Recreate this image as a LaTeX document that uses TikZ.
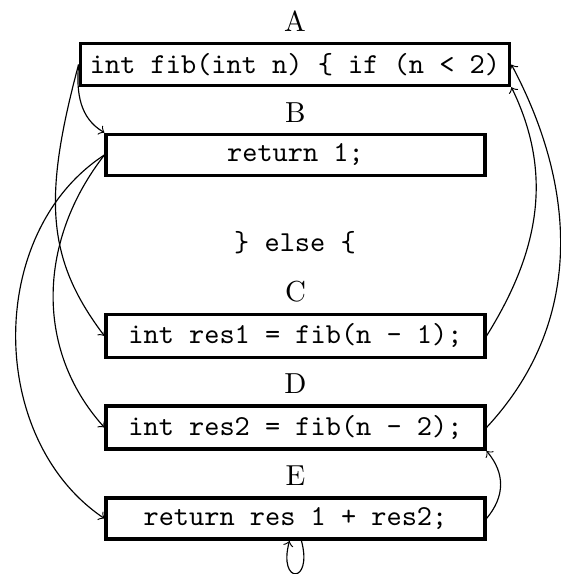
\documentclass[tikz,border=0pt]{standalone}
\usepackage{fontspec}
\begin{document}
\begin{tikzpicture}[scale=1.0,
    stmt/.style={draw, very thick, minimum width=4.6cm, font=\ttfamily},
    flow/.style={->, thin}]
    \useasboundingbox (0, 0) rectangle (6.804, 6.974);

    % Statements
    \node[stmt, minimum width=0pt, label=above:A] (A) at (3.584, 6.190) {int fib(int n) \{ if (n < 2)};
    \node[stmt, label=above:B] (B) at (3.590, 5.091) {return 1;};
    \node[font=\ttfamily] (else) at (3.584, 4.022) {\} else \{};
    \node[stmt, label=above:C] (C) at (3.590, 2.892) {int res1 = fib(n - 1);};
    \node[stmt, label=above:D] (D) at (3.590, 1.780) {int res2 = fib(n - 2);};
    \node[stmt, label=above:E] (E) at (3.590, 0.674) {return res 1 + res2;};

    % Left side
    \draw[flow] (A.west) to[out=-95, in=150] (B.north west);
    \draw[flow] (A.west) to[out=-105, in=127, out looseness=1.3, in looseness=0.9] (C.west);
    \draw[flow] (B.west) to[out=-128, in=132] (D.west);
    \draw[flow] (B.west) to[out=-147, in=146] (E.west);

    % Right side
    \draw[flow] (C.east) to[out=58, in=-64] (A.south east);
    \draw[flow] (D.east) to[out=47, in=-62] (A.east);
    \draw[flow] (E.east) to[out=50, in=-50, looseness=1.1] (D.south east);

    % Self loop
    \draw[flow] (E) to[out=-75, in=-105, looseness=8, min distance=5.5mm] (E);
\end{tikzpicture}
\end{document}
